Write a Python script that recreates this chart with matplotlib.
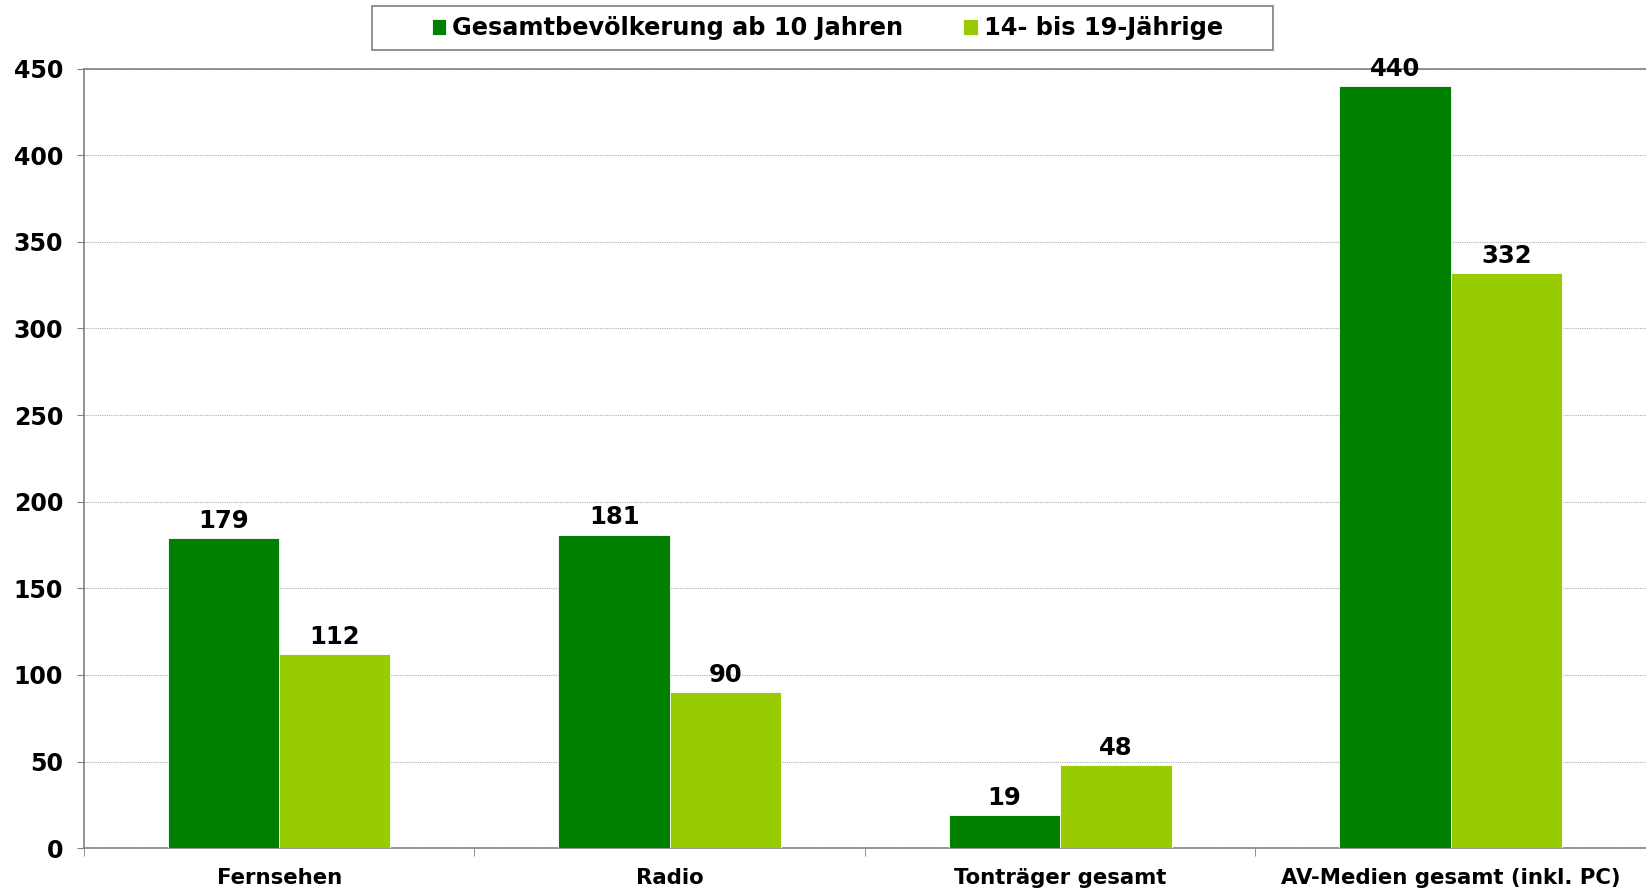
import matplotlib
matplotlib.use('Agg')
import matplotlib.pyplot as plt
from matplotlib.patches import Rectangle
import numpy as np

categories = ['Fernsehen', 'Radio', 'Tonträger gesamt', 'AV-Medien gesamt (inkl. PC)']
gesamt = [179, 181, 19, 440]
jugend = [112, 90, 48, 332]
series_names = ['Gesamtbevölkerung ab 10 Jahren', '14- bis 19-Jährige']
yticks = [0, 50, 100, 150, 200, 250, 300, 350, 400, 450]

dark = '#007F00'
light = '#99CC00'

plt.rcParams['font.family'] = ['DejaVu Sans']
plt.rcParams['font.weight'] = 'bold'

fig = plt.figure(figsize=(16.46, 8.9), dpi=100)
ax = fig.add_axes([0.051, 0.047, 0.949, 0.876])

x = np.arange(len(categories))
w = 0.285
b1 = ax.bar(x - w/2, gesamt, w, color=dark, edgecolor='white', linewidth=0.6, label=series_names[0], zorder=3)
b2 = ax.bar(x + w/2, jugend, w, color=light, edgecolor='white', linewidth=0.6, label=series_names[1], zorder=3)

for bars in (b1, b2):
    for r in bars:
        ax.text(r.get_x() + r.get_width()/2, r.get_height() + 3, '%d' % r.get_height(),
                ha='center', va='bottom', fontsize=17.5, fontweight='bold', zorder=4)

ax.set_xlim(-0.5, 3.5)
ax.set_ylim(0, 450)
ax.set_yticks(yticks)
ax.set_yticklabels([str(t) for t in yticks], fontsize=17, fontweight='bold')
ax.set_xticks(x)
ax.set_xticklabels(categories, fontsize=15.3, fontweight='bold')
ax.tick_params(axis='x', length=0, pad=14)
ax.tick_params(axis='y', length=5, color='#808080', pad=10)
ax.set_xticks(np.arange(-0.5, 4.0, 1.0), minor=True)
ax.tick_params(axis='x', which='minor', length=6, color='#808080', direction='out')

ax.grid(axis='y', color='#b0b0b0', linestyle=(0, (1, 1)), linewidth=0.8, zorder=0)
for s in ['left', 'bottom', 'top']:
    ax.spines[s].set_color('#808080')
    ax.spines[s].set_linewidth(1.2)
ax.spines['right'].set_visible(False)

# legend box is wider than the entries, so draw the frame separately
box = Rectangle((0.2258, 0.9434), 0.5478, 0.0495, transform=fig.transFigure,
                facecolor='white', edgecolor='#808080', linewidth=1.2, zorder=1)
fig.patches.append(box)
leg = fig.legend(loc='center', bbox_to_anchor=(0.5026, 0.968), ncol=2,
                 prop={'size': 17.3, 'weight': 'bold'}, frameon=False,
                 handlelength=0.6, handleheight=0.6, handletextpad=0.25, columnspacing=2.5)

fig.savefig('out.png', dpi=100)
